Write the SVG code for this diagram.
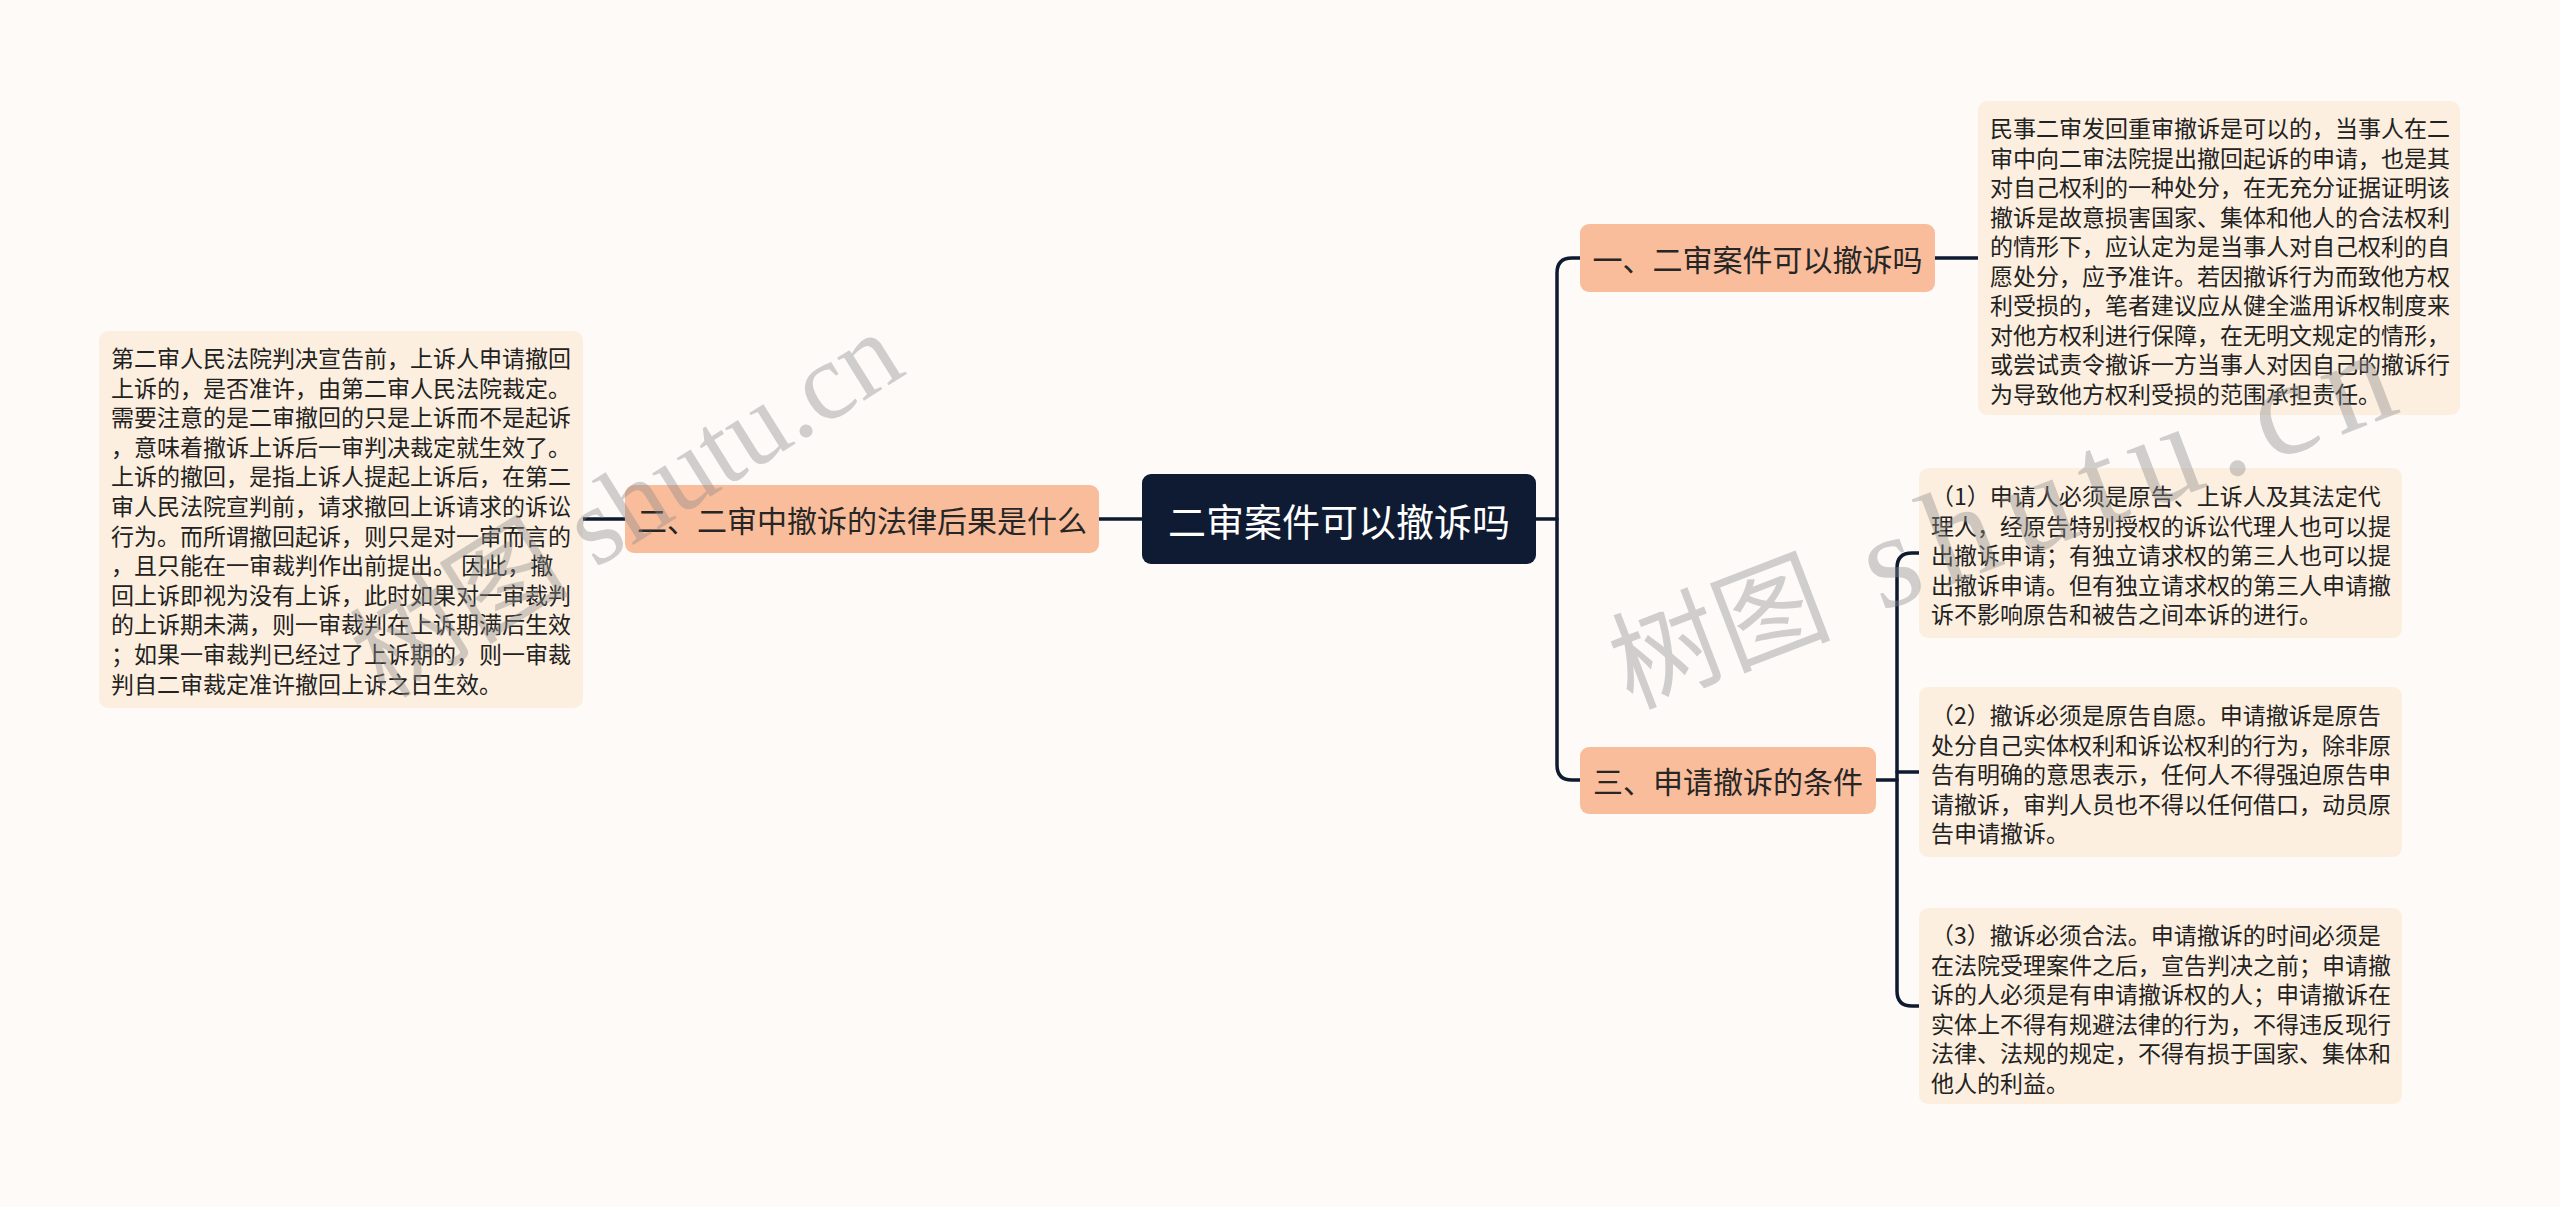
<svg xmlns="http://www.w3.org/2000/svg" width="2560" height="1207" viewBox="0 0 2560 1207">
<style>
.bg{fill:#fdfaf8}
.root{fill:#0e1b33}
.branch{fill:#f9bd9b}
.leaf{fill:#fcefdf}
.conn{fill:none;stroke:#0e1a2f;stroke-width:3.5;stroke-linecap:round;stroke-linejoin:round}
text{font-family:"Noto Sans CJK SC","Liberation Sans",sans-serif;dominant-baseline:central}
.rt{fill:#ffffff;font-size:38px}
.bt{fill:#262626;font-size:30px}
.lt{fill:#222222;font-size:23px}
.wm{font-family:"Liberation Serif","Noto Sans CJK SC",serif;font-size:110px;fill:#8c8c8c;fill-opacity:0.4;dominant-baseline:alphabetic}
</style>
<rect class="bg" x="0" y="0" width="2560" height="1207"/>
<g id="connectors">
<path class="conn" d="M1142 519 H1099"/>
<path class="conn" d="M625 519 H583"/>
<path class="conn" d="M1536 519 H1557"/>
<path class="conn" d="M1580 258 H1572 Q1557 258 1557 273 V765 Q1557 780 1572 780 H1580"/>
<path class="conn" d="M1935 258 H1978"/>
<path class="conn" d="M1876 780 H1897"/>
<path class="conn" d="M1919 553 H1912 Q1897 553 1897 568 V991 Q1897 1006 1912 1006 H1919"/>
<path class="conn" d="M1897 772 H1919"/>
</g>
<g id="root">
<rect class="root" x="1142" y="474" width="394" height="90" rx="9"/>
<text class="rt" x="1339" y="519" text-anchor="middle">二审案件可以撤诉吗</text>
</g>
<g id="branch-left">
<rect class="branch" x="625" y="485" width="474" height="68" rx="9"/>
<text class="bt" x="862" y="519" text-anchor="middle">二、二审中撤诉的法律后果是什么</text>
</g>
<g id="leaf-left">
<rect class="leaf" x="99" y="331" width="484" height="377" rx="9"/>
<text class="lt" x="111" y="357">第二审人民法院判决宣告前，上诉人申请撤回</text>
<text class="lt" x="111" y="386.6">上诉的，是否准许，由第二审人民法院裁定。</text>
<text class="lt" x="111" y="416.2">需要注意的是二审撤回的只是上诉而不是起诉</text>
<text class="lt" x="111" y="445.8">，意味着撤诉上诉后一审判决裁定就生效了。</text>
<text class="lt" x="111" y="475.4">上诉的撤回，是指上诉人提起上诉后，在第二</text>
<text class="lt" x="111" y="505">审人民法院宣判前，请求撤回上诉请求的诉讼</text>
<text class="lt" x="111" y="534.6">行为。而所谓撤回起诉，则只是对一审而言的</text>
<text class="lt" x="111" y="564.2">，且只能在一审裁判作出前提出。 因此，撤</text>
<text class="lt" x="111" y="593.8">回上诉即视为没有上诉，此时如果对一审裁判</text>
<text class="lt" x="111" y="623.4">的上诉期未满，则一审裁判在上诉期满后生效</text>
<text class="lt" x="111" y="653">；如果一审裁判已经过了上诉期的，则一审裁</text>
<text class="lt" x="111" y="682.6">判自二审裁定准许撤回上诉之日生效。</text>
</g>
<g id="branch-1">
<rect class="branch" x="1580" y="224" width="355" height="68" rx="9"/>
<text class="bt" x="1757.5" y="258" text-anchor="middle">一、二审案件可以撤诉吗</text>
</g>
<g id="leaf-1">
<rect class="leaf" x="1978" y="101" width="482" height="314" rx="9"/>
<text class="lt" x="1990" y="127">民事二审发回重审撤诉是可以的，当事人在二</text>
<text class="lt" x="1990" y="156.5">审中向二审法院提出撤回起诉的申请，也是其</text>
<text class="lt" x="1990" y="186">对自己权利的一种处分，在无充分证据证明该</text>
<text class="lt" x="1990" y="215.5">撤诉是故意损害国家、集体和他人的合法权利</text>
<text class="lt" x="1990" y="245">的情形下，应认定为是当事人对自己权利的自</text>
<text class="lt" x="1990" y="274.5">愿处分，应予准许。若因撤诉行为而致他方权</text>
<text class="lt" x="1990" y="304">利受损的，笔者建议应从健全滥用诉权制度来</text>
<text class="lt" x="1990" y="333.5">对他方权利进行保障，在无明文规定的情形，</text>
<text class="lt" x="1990" y="363">或尝试责令撤诉一方当事人对因自己的撤诉行</text>
<text class="lt" x="1990" y="392.5">为导致他方权利受损的范围承担责任。</text>
</g>
<g id="branch-3">
<rect class="branch" x="1580" y="747" width="296" height="67" rx="9"/>
<text class="bt" x="1728" y="780" text-anchor="middle">三、申请撤诉的条件</text>
</g>
<g id="leaf-3-1">
<rect class="leaf" x="1919" y="468" width="483" height="170" rx="9"/>
<text class="lt" x="1931" y="495">（1）申请人必须是原告、上诉人及其法定代</text>
<text class="lt" x="1931" y="524.6">理人，经原告特别授权的诉讼代理人也可以提</text>
<text class="lt" x="1931" y="554.2">出撤诉申请；有独立请求权的第三人也可以提</text>
<text class="lt" x="1931" y="583.8">出撤诉申请。但有独立请求权的第三人申请撤</text>
<text class="lt" x="1931" y="613.4">诉不影响原告和被告之间本诉的进行。</text>
</g>
<g id="leaf-3-2">
<rect class="leaf" x="1919" y="687" width="483" height="170" rx="9"/>
<text class="lt" x="1931" y="714">（2）撤诉必须是原告自愿。申请撤诉是原告</text>
<text class="lt" x="1931" y="743.6">处分自己实体权利和诉讼权利的行为，除非原</text>
<text class="lt" x="1931" y="773.2">告有明确的意思表示，任何人不得强迫原告申</text>
<text class="lt" x="1931" y="802.8">请撤诉，审判人员也不得以任何借口，动员原</text>
<text class="lt" x="1931" y="832.4">告申请撤诉。</text>
</g>
<g id="leaf-3-3">
<rect class="leaf" x="1919" y="908" width="483" height="196" rx="9"/>
<text class="lt" x="1931" y="934">（3）撤诉必须合法。申请撤诉的时间必须是</text>
<text class="lt" x="1931" y="963.6">在法院受理案件之后，宣告判决之前；申请撤</text>
<text class="lt" x="1931" y="993.2">诉的人必须是有申请撤诉权的人；申请撤诉在</text>
<text class="lt" x="1931" y="1022.8">实体上不得有规避法律的行为，不得违反现行</text>
<text class="lt" x="1931" y="1052.4">法律、法规的规定，不得有损于国家、集体和</text>
<text class="lt" x="1931" y="1082">他人的利益。</text>
</g>
<g id="watermarks">
<text class="wm" x="385" y="700" transform="rotate(-32 385 700)">树图 shutu.cn</text>
<text class="wm" x="1630" y="708" transform="rotate(-21 1630 708)">树图<tspan font-size="135" letter-spacing="15"> shutu.cn</tspan></text>
</g>
</svg>
